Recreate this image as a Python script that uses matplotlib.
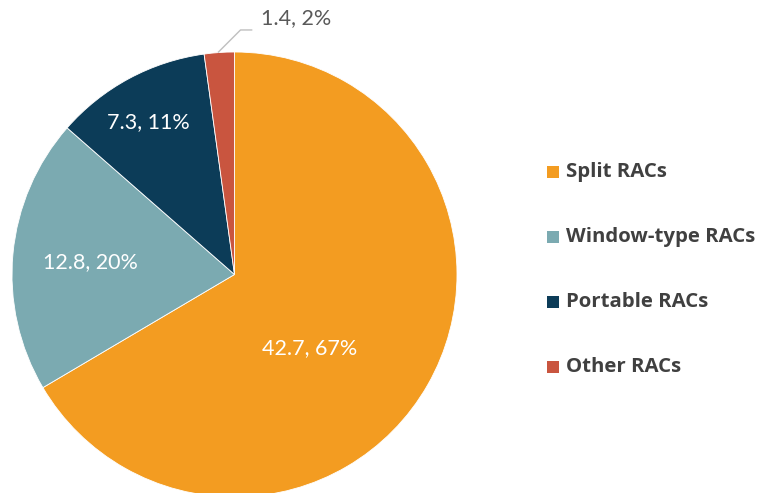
import matplotlib.pyplot as plt
from matplotlib.patches import Rectangle

# Date: capacitate instalata RAC pe tipuri
categories = ["Split RACs", "Window-type RACs", "Portable RACs", "Other RACs"]
values = [42.7, 12.8, 7.3, 1.4]
percents = [67, 20, 11, 2]
colors = ["#F39C21", "#7BAAB1", "#0C3C58", "#C9553F"]

plt.rcParams["font.family"] = ["Lato", "DejaVu Sans"]

W, H = 759, 493
fig = plt.figure(figsize=(W / 100, H / 100), dpi=100)
ax = fig.add_axes([12 / W, -4 / H, 445 / W, 445 / H])

wedges, _ = ax.pie(
    values,
    colors=colors,
    startangle=90,
    counterclock=False,
    radius=1.0,
    wedgeprops=dict(edgecolor="white", linewidth=0.6),
)
ax.set_xlim(-1, 1)
ax.set_ylim(-1, 1)
ax.set_aspect("equal")
ax.axis("off")

# etichete in interior (pozitii estimate)
label_pos = [(0.338, -0.333), (-0.649, 0.054), (-0.387, 0.685)]
for (x, y), v, p in zip(label_pos, values[:3], percents[:3]):
    ax.text(x, y, f"{v}, {p}%", ha="center", va="center",
            fontsize=15.5, color="white")

# eticheta exterioara cu linie de legatura
ax.plot([-0.072, 0.027, 0.077], [1.0, 1.099, 1.099],
        color="#BFBFBF", linewidth=1, clip_on=False)
ax.text(0.275, 1.153, f"{values[3]}, {percents[3]}%", ha="center",
        va="center", fontsize=15.5, color="#595959", clip_on=False)

# legenda manuala (patrat + text bold)
row_y = [172, 237, 302, 367]
for cat, col, yp in zip(categories, colors, row_y):
    fig.patches.append(Rectangle(
        (547 / W, 1 - (yp + 6) / H), 12 / W, 12 / H,
        transform=fig.transFigure, facecolor=col, edgecolor="none"))
    fig.text(566 / W, 1 - yp / H, cat, ha="left", va="center",
             fontsize=14.7, fontweight="bold", color="#404040",
             family=["Open Sans", "DejaVu Sans"])

fig.savefig("out.png", dpi=100)
